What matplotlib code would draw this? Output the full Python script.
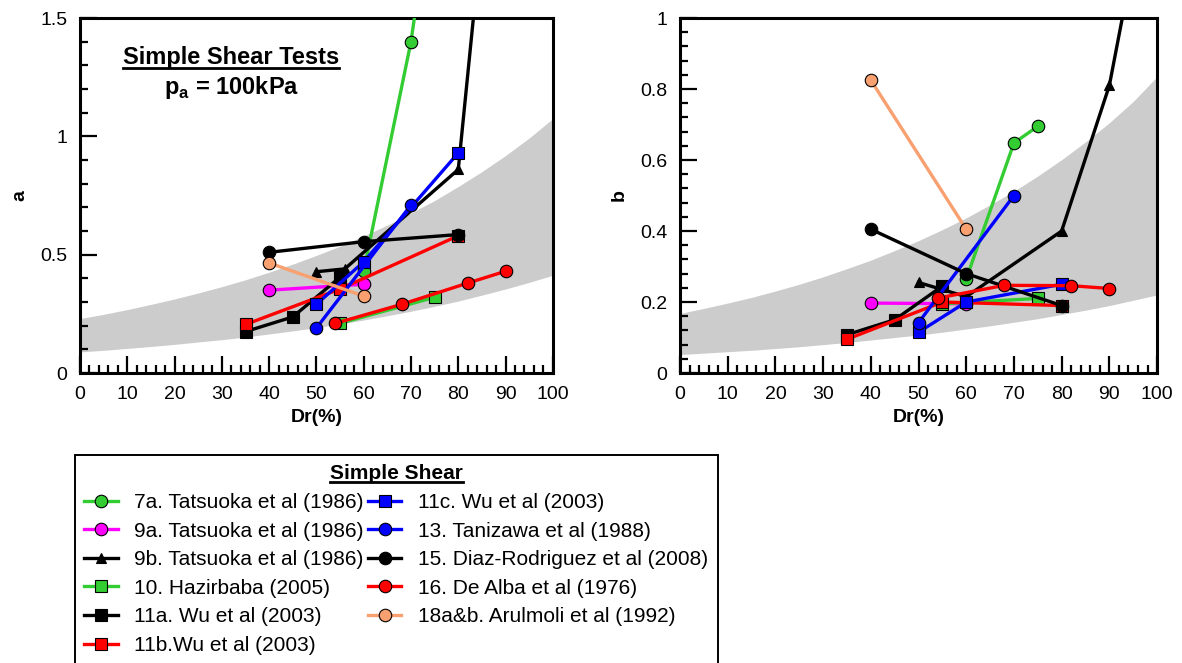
import numpy as np
import matplotlib
matplotlib.use('Agg')
import matplotlib.pyplot as plt
from matplotlib.ticker import MultipleLocator, FuncFormatter
from matplotlib.lines import Line2D

plt.rcParams['font.family'] = ['Liberation Sans', 'DejaVu Sans']
plt.rcParams['mathtext.fontset'] = 'custom'
plt.rcParams['mathtext.rm'] = 'Liberation Sans'
plt.rcParams['mathtext.bf'] = 'Liberation Sans:bold'

# band edges (Dr = 0..100 step 5)
band_dr = [0, 5, 10, 15, 20, 25, 30, 35, 40, 45, 50, 55, 60, 65, 70, 75, 80, 85, 90, 95, 100]
a_band_lo = [0.089, 0.096, 0.104, 0.112, 0.121, 0.131, 0.141, 0.152, 0.165, 0.178, 0.192,
             0.207, 0.224, 0.242, 0.261, 0.282, 0.304, 0.329, 0.355, 0.383, 0.413]
a_band_hi = [0.230, 0.248, 0.268, 0.290, 0.313, 0.338, 0.365, 0.394, 0.426, 0.460, 0.497,
             0.536, 0.579, 0.625, 0.676, 0.729, 0.788, 0.851, 0.919, 0.993, 1.075]
b_band_lo = [0.052, 0.056, 0.060, 0.064, 0.069, 0.074, 0.080, 0.086, 0.093, 0.100, 0.107,
             0.115, 0.124, 0.133, 0.143, 0.153, 0.165, 0.177, 0.190, 0.205, 0.220]
b_band_hi = [0.168, 0.182, 0.197, 0.213, 0.231, 0.250, 0.271, 0.294, 0.318, 0.345, 0.373,
             0.404, 0.437, 0.474, 0.512, 0.555, 0.601, 0.651, 0.705, 0.765, 0.835]

labels = ['7a. Tatsuoka et al (1986)', '9a. Tatsuoka et al (1986)', '9b. Tatsuoka et al (1986)',
          '10. Hazirbaba (2005)', '11a. Wu et al (2003)', '11b.Wu et al (2003)',
          '11c. Wu et al (2003)', '13. Tanizawa et al (1988)', '15. Diaz-Rodriguez et al (2008)',
          '16. De Alba et al (1976)', '18a&b. Arulmoli et al (1992)']

# Dr values and a / b values per series
dr_7a = [60, 70, 75];        a_7a = [0.43, 1.40, 2.10];    b_7a = [0.265, 0.648, 0.695]
dr_9a = [40, 60];            a_9a = [0.35, 0.375];         b_9a = [0.197, 0.195]
dr_9b_a = [50, 56, 80, 90];  a_9b = [0.428, 0.44, 0.86, 2.86]
dr_9b_b = [50, 60, 80, 90, 95]; b_9b = [0.255, 0.215, 0.40, 0.81, 1.16]
dr_10 = [55, 75];            a_10 = [0.21, 0.32];          b_10 = [0.195, 0.21]
dr_11a = [35, 45, 55];       a_11a = [0.175, 0.237, 0.405]; b_11a = [0.108, 0.15, 0.245]
dr_11b = [35, 55, 80];       a_11b = [0.205, 0.355, 0.58]; b_11b = [0.095, 0.20, 0.19]
dr_11c = [50, 60, 80];       a_11c = [0.29, 0.47, 0.93];   b_11c = [0.115, 0.20, 0.25]
dr_13 = [50, 70];            a_13 = [0.19, 0.71];          b_13 = [0.142, 0.50]
dr_15 = [40, 60, 80];        a_15 = [0.51, 0.555, 0.585];  b_15 = [0.405, 0.28, 0.19]
dr_16 = [54, 68, 82, 90];    a_16 = [0.21, 0.29, 0.38, 0.43]; b_16 = [0.211, 0.247, 0.246, 0.238]
dr_18 = [40, 60];            a_18 = [0.465, 0.325];        b_18 = [0.825, 0.405]

green = '#33cc33'
magenta = '#ff00ff'
red = '#ff0000'
blue = '#0000ff'
salmon = '#f8a070'

styles = [(green, 'o'), (magenta, 'o'), ('black', '^'), (green, 's'), ('black', 's'), (red, 's'),
          (blue, 's'), (blue, 'o'), ('black', 'o'), (red, 'o'), (salmon, 'o')]

a_series = [(dr_7a, a_7a), (dr_9a, a_9a), (dr_9b_a, a_9b), (dr_10, a_10), (dr_11a, a_11a),
            (dr_11b, a_11b), (dr_11c, a_11c), (dr_13, a_13), (dr_15, a_15), (dr_16, a_16), (dr_18, a_18)]
b_series = [(dr_7a, b_7a), (dr_9a, b_9a), (dr_9b_b, b_9b), (dr_10, b_10), (dr_11a, b_11a),
            (dr_11b, b_11b), (dr_11c, b_11c), (dr_13, b_13), (dr_15, b_15), (dr_16, b_16), (dr_18, b_18)]

fig = plt.figure(figsize=(11.82, 6.63), dpi=100)
ax1 = fig.add_axes([0.0677, 0.4374, 0.400, 0.5354])
ax2 = fig.add_axes([0.5753, 0.4374, 0.4036, 0.5354])


def draw_panel(ax, lo, hi, series, ymax, ymaj, ymin, ylabel):
    ax.fill_between(band_dr, lo, hi, color='#cccccc', lw=0, zorder=1)
    for (x, y), (c, m) in zip(series, styles):
        ms = 7 if m == '^' else 9
        ax.plot(x, y, color=c, lw=2.4, marker=m, ms=ms, mfc=c, mec='black', mew=0.8, zorder=3)
    ax.set_xlim(0, 100)
    ax.set_ylim(0, ymax)
    ax.xaxis.set_major_locator(MultipleLocator(10))
    ax.xaxis.set_minor_locator(MultipleLocator(2))
    ax.yaxis.set_major_locator(MultipleLocator(ymaj))
    ax.yaxis.set_minor_locator(MultipleLocator(ymin))
    ax.yaxis.set_major_formatter(FuncFormatter(lambda v, p: '%g' % v))
    ax.tick_params(which='both', direction='in', width=1.6, labelsize=14)
    ax.tick_params(which='major', length=12, pad=9)
    ax.tick_params(which='minor', length=6)
    for s in ax.spines.values():
        s.set_linewidth(2.2)
    ax.set_xlabel('Dr(%)', fontsize=14, fontweight='bold', labelpad=5)
    ax.set_ylabel(ylabel, fontsize=14, fontweight='bold', labelpad=9)


draw_panel(ax1, a_band_lo, a_band_hi, a_series, 1.5, 0.5, 0.1, 'a')
draw_panel(ax2, b_band_lo, b_band_hi, b_series, 1.0, 0.2, 0.04, 'b')

t1 = ax1.text(0.32, 0.89, 'Simple Shear Tests', transform=ax1.transAxes, ha='center', va='center',
              fontsize=17, fontweight='bold')
ax1.text(0.32, 0.805, r'p$_\mathbf{a}$ = 100kPa', transform=ax1.transAxes, ha='center', va='center',
         fontsize=17, fontweight='bold')

handles = [Line2D([], [], color=c, lw=2.4, marker=m, ms=(7 if m == '^' else 9), mfc=c,
                  mec='black', mew=0.8) for c, m in styles]
leg = fig.legend(handles, labels, loc='upper left', bbox_to_anchor=(0.0635, 0.3137), ncol=2,
                 borderaxespad=0, title='Simple Shear',
                 title_fontproperties={'weight': 'bold', 'size': 15},
                 fontsize=15, frameon=True, fancybox=False, edgecolor='black', framealpha=1,
                 handlelength=1.6, handletextpad=0.8, columnspacing=0.2, labelspacing=0.46,
                 borderpad=0.45)
leg.get_frame().set_linewidth(1.4)


def underline(txt):
    fig.canvas.draw()
    bb = txt.get_window_extent()
    y = bb.y0 + 1
    fig.add_artist(Line2D([bb.x0 / fig.bbox.width, bb.x1 / fig.bbox.width],
                          [y / fig.bbox.height, y / fig.bbox.height],
                          color='black', lw=2.0, transform=fig.transFigure, zorder=20))


underline(t1)
underline(leg.get_title())

fig.savefig('out.png', dpi=100)
